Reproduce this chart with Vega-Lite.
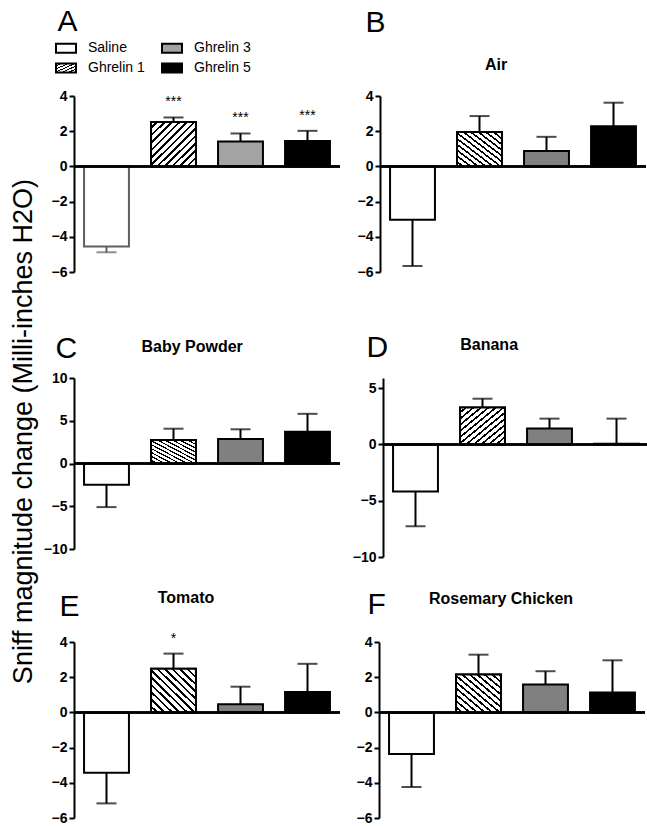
{
"$schema":"https://vega.github.io/schema/vega-lite/v6.json",
"background":"white",
"padding":{"left":10,"top":6,"right":2,"bottom":0},
"config":{"font":"Liberation Sans","view":{"stroke":null},
 "axis":{"grid":false,"domainColor":"black","domainWidth":2,"tickColor":"black","tickWidth":2,"tickSize":5,"labelFontSize":14,"labelFontWeight":"bold","labelColor":"black","labelPadding":2}},
"params":[
 {"name":"hatchFwd","value":{"gradient":"linear","x1":0,"y1":0,"x2":1,"y2":1,"stops":[{"offset":0,"color":"white"},{"offset":0.054,"color":"white"},{"offset":0.054,"color":"black"},{"offset":0.0833,"color":"black"},{"offset":0.0833,"color":"white"},{"offset":0.1375,"color":"white"},{"offset":0.1375,"color":"black"},{"offset":0.1667,"color":"black"},{"offset":0.1667,"color":"white"},{"offset":0.2208,"color":"white"},{"offset":0.2208,"color":"black"},{"offset":0.25,"color":"black"},{"offset":0.25,"color":"white"},{"offset":0.3042,"color":"white"},{"offset":0.3042,"color":"black"},{"offset":0.3333,"color":"black"},{"offset":0.3333,"color":"white"},{"offset":0.3875,"color":"white"},{"offset":0.3875,"color":"black"},{"offset":0.4167,"color":"black"},{"offset":0.4167,"color":"white"},{"offset":0.4708,"color":"white"},{"offset":0.4708,"color":"black"},{"offset":0.5,"color":"black"},{"offset":0.5,"color":"white"},{"offset":0.5542,"color":"white"},{"offset":0.5542,"color":"black"},{"offset":0.5833,"color":"black"},{"offset":0.5833,"color":"white"},{"offset":0.6375,"color":"white"},{"offset":0.6375,"color":"black"},{"offset":0.6667,"color":"black"},{"offset":0.6667,"color":"white"},{"offset":0.7208,"color":"white"},{"offset":0.7208,"color":"black"},{"offset":0.75,"color":"black"},{"offset":0.75,"color":"white"},{"offset":0.8042,"color":"white"},{"offset":0.8042,"color":"black"},{"offset":0.8333,"color":"black"},{"offset":0.8333,"color":"white"},{"offset":0.8875,"color":"white"},{"offset":0.8875,"color":"black"},{"offset":0.9167,"color":"black"},{"offset":0.9167,"color":"white"},{"offset":0.9708,"color":"white"},{"offset":0.9708,"color":"black"},{"offset":1,"color":"black"}]}},
 {"name":"hatchBack","value":{"gradient":"linear","x1":0,"y1":1,"x2":1,"y2":0,"stops":[{"offset":0,"color":"white"},{"offset":0.054,"color":"white"},{"offset":0.054,"color":"black"},{"offset":0.0833,"color":"black"},{"offset":0.0833,"color":"white"},{"offset":0.1375,"color":"white"},{"offset":0.1375,"color":"black"},{"offset":0.1667,"color":"black"},{"offset":0.1667,"color":"white"},{"offset":0.2208,"color":"white"},{"offset":0.2208,"color":"black"},{"offset":0.25,"color":"black"},{"offset":0.25,"color":"white"},{"offset":0.3042,"color":"white"},{"offset":0.3042,"color":"black"},{"offset":0.3333,"color":"black"},{"offset":0.3333,"color":"white"},{"offset":0.3875,"color":"white"},{"offset":0.3875,"color":"black"},{"offset":0.4167,"color":"black"},{"offset":0.4167,"color":"white"},{"offset":0.4708,"color":"white"},{"offset":0.4708,"color":"black"},{"offset":0.5,"color":"black"},{"offset":0.5,"color":"white"},{"offset":0.5542,"color":"white"},{"offset":0.5542,"color":"black"},{"offset":0.5833,"color":"black"},{"offset":0.5833,"color":"white"},{"offset":0.6375,"color":"white"},{"offset":0.6375,"color":"black"},{"offset":0.6667,"color":"black"},{"offset":0.6667,"color":"white"},{"offset":0.7208,"color":"white"},{"offset":0.7208,"color":"black"},{"offset":0.75,"color":"black"},{"offset":0.75,"color":"white"},{"offset":0.8042,"color":"white"},{"offset":0.8042,"color":"black"},{"offset":0.8333,"color":"black"},{"offset":0.8333,"color":"white"},{"offset":0.8875,"color":"white"},{"offset":0.8875,"color":"black"},{"offset":0.9167,"color":"black"},{"offset":0.9167,"color":"white"},{"offset":0.9708,"color":"white"},{"offset":0.9708,"color":"black"},{"offset":1,"color":"black"}]}},
 {"name":"hatchLeg","value":{"gradient":"linear","x1":0,"y1":0,"x2":1,"y2":1,"stops":[{"offset":0,"color":"white"},{"offset":0.108,"color":"white"},{"offset":0.108,"color":"black"},{"offset":0.1667,"color":"black"},{"offset":0.1667,"color":"white"},{"offset":0.275,"color":"white"},{"offset":0.275,"color":"black"},{"offset":0.3333,"color":"black"},{"offset":0.3333,"color":"white"},{"offset":0.4417,"color":"white"},{"offset":0.4417,"color":"black"},{"offset":0.5,"color":"black"},{"offset":0.5,"color":"white"},{"offset":0.6083,"color":"white"},{"offset":0.6083,"color":"black"},{"offset":0.6667,"color":"black"},{"offset":0.6667,"color":"white"},{"offset":0.775,"color":"white"},{"offset":0.775,"color":"black"},{"offset":0.8333,"color":"black"},{"offset":0.8333,"color":"white"},{"offset":0.9417,"color":"white"},{"offset":0.9417,"color":"black"},{"offset":1,"color":"black"}]}}
],
"title":{"text":"Sniff magnitude change (Milli-inches H2O)","orient":"left","anchor":"middle","frame":"bounds","fontSize":27,"fontWeight":"normal","offset":5,"dx":-16,"color":"black"},
"datasets":{"d":[
{"panel":"A","group":"Saline","mean":-4.55,"err":-4.88},
{"panel":"A","group":"Ghrelin 1","mean":2.52,"err":2.78,"sig":"***"},
{"panel":"A","group":"Ghrelin 3","mean":1.42,"err":1.87,"sig":"***"},
{"panel":"A","group":"Ghrelin 5","mean":1.45,"err":2.02,"sig":"***"},
{"panel":"B","group":"Saline","mean":-3.03,"err":-5.66},
{"panel":"B","group":"Ghrelin 1","mean":1.96,"err":2.86},
{"panel":"B","group":"Ghrelin 3","mean":0.88,"err":1.68},
{"panel":"B","group":"Ghrelin 5","mean":2.28,"err":3.62},
{"panel":"C","group":"Saline","mean":-2.48,"err":-5.1},
{"panel":"C","group":"Ghrelin 1","mean":2.76,"err":4.07},
{"panel":"C","group":"Ghrelin 3","mean":2.87,"err":4.0},
{"panel":"C","group":"Ghrelin 5","mean":3.72,"err":5.81},
{"panel":"D","group":"Saline","mean":-4.18,"err":-7.27},
{"panel":"D","group":"Ghrelin 1","mean":3.29,"err":4.06},
{"panel":"D","group":"Ghrelin 3","mean":1.41,"err":2.29},
{"panel":"D","group":"Ghrelin 5","mean":0.05,"err":2.29},
{"panel":"E","group":"Saline","mean":-3.43,"err":-5.17},
{"panel":"E","group":"Ghrelin 1","mean":2.48,"err":3.34,"sig":"*"},
{"panel":"E","group":"Ghrelin 3","mean":0.47,"err":1.46},
{"panel":"E","group":"Ghrelin 5","mean":1.16,"err":2.76},
{"panel":"F","group":"Saline","mean":-2.37,"err":-4.24},
{"panel":"F","group":"Ghrelin 1","mean":2.15,"err":3.28},
{"panel":"F","group":"Ghrelin 3","mean":1.58,"err":2.34},
{"panel":"F","group":"Ghrelin 5","mean":1.13,"err":2.96}
]},
"spacing":53,
"vconcat":[
{"hconcat":[
 {"width":266,"height":176,"data":{"name":"d"},"transform":[{"filter":"datum.panel === 'A'"}],
  "layer":[
   {"mark":{"type":"rule","strokeWidth":2},"encoding":{"x":{"field":"group","type":"nominal","scale":{"domain":["Saline","Ghrelin 1","Ghrelin 3","Ghrelin 5"],"paddingInner":0.33,"paddingOuter":0.15},"axis":{"orient":"top","title":"A","titleAnchor":"start","titleAlign":"left","titleX":-17,"titleFontSize":30,"titleFontWeight":"normal","titleBaseline":"alphabetic","titlePadding":66,"titleColor":"black","labels":false,"ticks":false,"domain":false}},"y":{"field":"mean","type":"quantitative","scale":{"domain":[-6,4],"nice":false},"axis":{"title":null,"values":[-6,-4,-2,0,2,4]}},"y2":{"field":"err"},"color":{"condition":{"test":"datum.group === 'Saline'","value":"#5f5f5f"},"value":"black"}}},
   {"mark":{"type":"tick","thickness":2,"size":20},"encoding":{"x":{"field":"group","type":"nominal","scale":{"domain":["Saline","Ghrelin 1","Ghrelin 3","Ghrelin 5"],"paddingInner":0.33,"paddingOuter":0.15},"axis":{"orient":"top","title":"A","titleAnchor":"start","titleAlign":"left","titleX":-17,"titleFontSize":30,"titleFontWeight":"normal","titleBaseline":"alphabetic","titlePadding":66,"titleColor":"black","labels":false,"ticks":false,"domain":false}},"y":{"field":"err","type":"quantitative","scale":{"domain":[-6,4],"nice":false},"axis":{"title":null,"values":[-6,-4,-2,0,2,4]}},"color":{"condition":{"test":"datum.group === 'Saline'","value":"#5f5f5f"},"value":"black"}}},
   {"mark":{"type":"bar","strokeWidth":2},"encoding":{
     "x":{"field":"group","type":"nominal","scale":{"domain":["Saline","Ghrelin 1","Ghrelin 3","Ghrelin 5"],"paddingInner":0.33,"paddingOuter":0.15},"axis":{"orient":"top","title":"A","titleAnchor":"start","titleAlign":"left","titleX":-17,"titleFontSize":30,"titleFontWeight":"normal","titleBaseline":"alphabetic","titlePadding":66,"titleColor":"black","labels":false,"ticks":false,"domain":false}},
     "y":{"field":"mean","type":"quantitative","scale":{"domain":[-6,4],"nice":false},"axis":{"title":null,"values":[-6,-4,-2,0,2,4]}},
     "fill":{"field":"group","type":"nominal","scale":{"domain":["Saline","Ghrelin 1","Ghrelin 3","Ghrelin 5"],"range":["white",{"expr":"hatchLeg"},"#a3a3a3","black"]},
       "legend":{"orient":"none","legendX":-19,"legendY":-59,"title":null,"columns":2,"symbolType":"M-1,-0.45H1V0.45H-1Z","symbolSize":400,"symbolStrokeColor":"black","symbolStrokeWidth":2,"labelFontSize":14,"labelColor":"black","labelOffset":11,"columnPadding":13,"rowPadding":0}},
     "stroke":{"condition":{"test":"datum.group === 'Saline'","value":"#5f5f5f"},"value":"black"}}},
   {"transform":[{"filter":"datum.group === 'Ghrelin 1'"}],"mark":{"type":"bar","stroke":"black","strokeWidth":2,"fill":{"expr":"hatchFwd"}},"encoding":{"x":{"field":"group","type":"nominal","scale":{"domain":["Saline","Ghrelin 1","Ghrelin 3","Ghrelin 5"],"paddingInner":0.33,"paddingOuter":0.15},"axis":{"orient":"top","title":"A","titleAnchor":"start","titleAlign":"left","titleX":-17,"titleFontSize":30,"titleFontWeight":"normal","titleBaseline":"alphabetic","titlePadding":66,"titleColor":"black","labels":false,"ticks":false,"domain":false}},"y":{"field":"mean","type":"quantitative","scale":{"domain":[-6,4],"nice":false},"axis":{"title":null,"values":[-6,-4,-2,0,2,4]}}}},
   {"mark":{"type":"rule","color":"black","strokeWidth":2},"encoding":{"y":{"datum":0,"type":"quantitative","scale":{"domain":[-6,4],"nice":false},"axis":{"title":null,"values":[-6,-4,-2,0,2,4]}}}},
   {"transform":[{"filter":"datum.sig"}],"mark":{"type":"text","fontSize":14,"baseline":"alphabetic","dy":-11,"color":"black"},"encoding":{"x":{"field":"group","type":"nominal","scale":{"domain":["Saline","Ghrelin 1","Ghrelin 3","Ghrelin 5"],"paddingInner":0.33,"paddingOuter":0.15},"axis":{"orient":"top","title":"A","titleAnchor":"start","titleAlign":"left","titleX":-17,"titleFontSize":30,"titleFontWeight":"normal","titleBaseline":"alphabetic","titlePadding":66,"titleColor":"black","labels":false,"ticks":false,"domain":false}},"y":{"field":"err","type":"quantitative","scale":{"domain":[-6,4],"nice":false},"axis":{"title":null,"values":[-6,-4,-2,0,2,4]}},"text":{"field":"sig"}}}
  ]},
 {"width":266,"height":176,"data":{"name":"d"},"transform":[{"filter":"datum.panel === 'B'"}],
  "title":{"text":"Air","anchor":"middle","frame":"bounds","fontSize":16,"fontWeight":"bold","baseline":"alphabetic","offset":-79,"dx":-6,"color":"black"},
  "layer":[
   {"mark":{"type":"rule","color":"black","strokeWidth":2},"encoding":{"x":{"field":"group","type":"nominal","scale":{"domain":["Saline","Ghrelin 1","Ghrelin 3","Ghrelin 5"],"paddingInner":0.33,"paddingOuter":0.15},"axis":{"orient":"top","title":"B","titleAnchor":"start","titleAlign":"left","titleX":-15,"titleFontSize":30,"titleFontWeight":"normal","titleBaseline":"alphabetic","titlePadding":65,"titleColor":"black","labels":false,"ticks":false,"domain":false}},"y":{"field":"mean","type":"quantitative","scale":{"domain":[-6,4],"nice":false},"axis":{"title":null,"values":[-6,-4,-2,0,2,4]}},"y2":{"field":"err"}}},
   {"mark":{"type":"tick","color":"black","thickness":2,"size":20},"encoding":{"x":{"field":"group","type":"nominal","scale":{"domain":["Saline","Ghrelin 1","Ghrelin 3","Ghrelin 5"],"paddingInner":0.33,"paddingOuter":0.15},"axis":{"orient":"top","title":"B","titleAnchor":"start","titleAlign":"left","titleX":-15,"titleFontSize":30,"titleFontWeight":"normal","titleBaseline":"alphabetic","titlePadding":65,"titleColor":"black","labels":false,"ticks":false,"domain":false}},"y":{"field":"err","type":"quantitative","scale":{"domain":[-6,4],"nice":false},"axis":{"title":null,"values":[-6,-4,-2,0,2,4]}}}},
   {"mark":{"type":"bar","stroke":"black","strokeWidth":2},"encoding":{
     "x":{"field":"group","type":"nominal","scale":{"domain":["Saline","Ghrelin 1","Ghrelin 3","Ghrelin 5"],"paddingInner":0.33,"paddingOuter":0.15},"axis":{"orient":"top","title":"B","titleAnchor":"start","titleAlign":"left","titleX":-15,"titleFontSize":30,"titleFontWeight":"normal","titleBaseline":"alphabetic","titlePadding":65,"titleColor":"black","labels":false,"ticks":false,"domain":false}},
     "y":{"field":"mean","type":"quantitative","scale":{"domain":[-6,4],"nice":false},"axis":{"title":null,"values":[-6,-4,-2,0,2,4]}},
     "fill":{"condition":[{"test":"datum.group === 'Ghrelin 3'","value":"#808080"},{"test":"datum.group === 'Ghrelin 5'","value":"black"}],"value":"white"}}},
   {"transform":[{"filter":"datum.group === 'Ghrelin 1'"}],"mark":{"type":"bar","stroke":"black","strokeWidth":2,"fill":{"expr":"hatchBack"}},"encoding":{"x":{"field":"group","type":"nominal","scale":{"domain":["Saline","Ghrelin 1","Ghrelin 3","Ghrelin 5"],"paddingInner":0.33,"paddingOuter":0.15},"axis":{"orient":"top","title":"B","titleAnchor":"start","titleAlign":"left","titleX":-15,"titleFontSize":30,"titleFontWeight":"normal","titleBaseline":"alphabetic","titlePadding":65,"titleColor":"black","labels":false,"ticks":false,"domain":false}},"y":{"field":"mean","type":"quantitative","scale":{"domain":[-6,4],"nice":false},"axis":{"title":null,"values":[-6,-4,-2,0,2,4]}}}},
   {"mark":{"type":"rule","color":"black","strokeWidth":2},"encoding":{"y":{"datum":0,"type":"quantitative","scale":{"domain":[-6,4],"nice":false},"axis":{"title":null,"values":[-6,-4,-2,0,2,4]}}}}
  ]}
 ],"spacing":16},
{"vconcat":[
 {"hconcat":[
  {"width":266,"height":171,"data":{"name":"d"},"transform":[{"filter":"datum.panel === 'C'"}],
   "title":{"text":"Baby Powder","anchor":"middle","frame":"bounds","fontSize":16,"fontWeight":"bold","baseline":"alphabetic","offset":-35,"color":"black"},
   "layer":[
    {"mark":{"type":"rule","color":"black","strokeWidth":2},"encoding":{"x":{"field":"group","type":"nominal","scale":{"domain":["Saline","Ghrelin 1","Ghrelin 3","Ghrelin 5"],"paddingInner":0.33,"paddingOuter":0.15},"axis":{"orient":"top","title":"C","titleAnchor":"start","titleAlign":"left","titleX":-19,"titleFontSize":30,"titleFontWeight":"normal","titleBaseline":"alphabetic","titlePadding":21,"titleColor":"black","labels":false,"ticks":false,"domain":false}},"y":{"field":"mean","type":"quantitative","scale":{"domain":[-10,10],"nice":false},"axis":{"title":null,"values":[-10,-5,0,5,10]}},"y2":{"field":"err"}}},
    {"mark":{"type":"tick","color":"black","thickness":2,"size":20},"encoding":{"x":{"field":"group","type":"nominal","scale":{"domain":["Saline","Ghrelin 1","Ghrelin 3","Ghrelin 5"],"paddingInner":0.33,"paddingOuter":0.15},"axis":{"orient":"top","title":"C","titleAnchor":"start","titleAlign":"left","titleX":-19,"titleFontSize":30,"titleFontWeight":"normal","titleBaseline":"alphabetic","titlePadding":21,"titleColor":"black","labels":false,"ticks":false,"domain":false}},"y":{"field":"err","type":"quantitative","scale":{"domain":[-10,10],"nice":false},"axis":{"title":null,"values":[-10,-5,0,5,10]}}}},
    {"mark":{"type":"bar","stroke":"black","strokeWidth":2},"encoding":{
      "x":{"field":"group","type":"nominal","scale":{"domain":["Saline","Ghrelin 1","Ghrelin 3","Ghrelin 5"],"paddingInner":0.33,"paddingOuter":0.15},"axis":{"orient":"top","title":"C","titleAnchor":"start","titleAlign":"left","titleX":-19,"titleFontSize":30,"titleFontWeight":"normal","titleBaseline":"alphabetic","titlePadding":21,"titleColor":"black","labels":false,"ticks":false,"domain":false}},
      "y":{"field":"mean","type":"quantitative","scale":{"domain":[-10,10],"nice":false},"axis":{"title":null,"values":[-10,-5,0,5,10]}},
      "fill":{"condition":[{"test":"datum.group === 'Ghrelin 3'","value":"#808080"},{"test":"datum.group === 'Ghrelin 5'","value":"black"}],"value":"white"}}},
    {"transform":[{"filter":"datum.group === 'Ghrelin 1'"}],"mark":{"type":"bar","stroke":"black","strokeWidth":2,"fill":{"expr":"hatchBack"}},"encoding":{"x":{"field":"group","type":"nominal","scale":{"domain":["Saline","Ghrelin 1","Ghrelin 3","Ghrelin 5"],"paddingInner":0.33,"paddingOuter":0.15},"axis":{"orient":"top","title":"C","titleAnchor":"start","titleAlign":"left","titleX":-19,"titleFontSize":30,"titleFontWeight":"normal","titleBaseline":"alphabetic","titlePadding":21,"titleColor":"black","labels":false,"ticks":false,"domain":false}},"y":{"field":"mean","type":"quantitative","scale":{"domain":[-10,10],"nice":false},"axis":{"title":null,"values":[-10,-5,0,5,10]}}}},
    {"mark":{"type":"rule","color":"black","strokeWidth":2},"encoding":{"y":{"datum":0,"type":"quantitative","scale":{"domain":[-10,10],"nice":false},"axis":{"title":null,"values":[-10,-5,0,5,10]}}}}
   ]},
  {"width":266,"height":179,"data":{"name":"d"},"transform":[{"filter":"datum.panel === 'D'"}],
   "title":{"text":"Banana","anchor":"middle","frame":"bounds","fontSize":16,"fontWeight":"bold","baseline":"alphabetic","offset":-34,"dx":-12,"color":"black"},
   "layer":[
    {"mark":{"type":"rule","color":"black","strokeWidth":2},"encoding":{"x":{"field":"group","type":"nominal","scale":{"domain":["Saline","Ghrelin 1","Ghrelin 3","Ghrelin 5"],"paddingInner":0.33,"paddingOuter":0.15},"axis":{"orient":"top","title":"D","titleAnchor":"start","titleAlign":"left","titleX":-17,"titleFontSize":30,"titleFontWeight":"normal","titleBaseline":"alphabetic","titlePadding":22,"titleColor":"black","labels":false,"ticks":false,"domain":false}},"y":{"field":"mean","type":"quantitative","scale":{"domain":[-10,5.9],"nice":false},"axis":{"title":null,"values":[-10,-5,0,5]}},"y2":{"field":"err"}}},
    {"mark":{"type":"tick","color":"black","thickness":2,"size":20},"encoding":{"x":{"field":"group","type":"nominal","scale":{"domain":["Saline","Ghrelin 1","Ghrelin 3","Ghrelin 5"],"paddingInner":0.33,"paddingOuter":0.15},"axis":{"orient":"top","title":"D","titleAnchor":"start","titleAlign":"left","titleX":-17,"titleFontSize":30,"titleFontWeight":"normal","titleBaseline":"alphabetic","titlePadding":22,"titleColor":"black","labels":false,"ticks":false,"domain":false}},"y":{"field":"err","type":"quantitative","scale":{"domain":[-10,5.9],"nice":false},"axis":{"title":null,"values":[-10,-5,0,5]}}}},
    {"mark":{"type":"bar","stroke":"black","strokeWidth":2},"encoding":{
      "x":{"field":"group","type":"nominal","scale":{"domain":["Saline","Ghrelin 1","Ghrelin 3","Ghrelin 5"],"paddingInner":0.33,"paddingOuter":0.15},"axis":{"orient":"top","title":"D","titleAnchor":"start","titleAlign":"left","titleX":-17,"titleFontSize":30,"titleFontWeight":"normal","titleBaseline":"alphabetic","titlePadding":22,"titleColor":"black","labels":false,"ticks":false,"domain":false}},
      "y":{"field":"mean","type":"quantitative","scale":{"domain":[-10,5.9],"nice":false},"axis":{"title":null,"values":[-10,-5,0,5]}},
      "fill":{"condition":[{"test":"datum.group === 'Ghrelin 3'","value":"#808080"},{"test":"datum.group === 'Ghrelin 5'","value":"black"}],"value":"white"}}},
    {"transform":[{"filter":"datum.group === 'Ghrelin 1'"}],"mark":{"type":"bar","stroke":"black","strokeWidth":2,"fill":{"expr":"hatchFwd"}},"encoding":{"x":{"field":"group","type":"nominal","scale":{"domain":["Saline","Ghrelin 1","Ghrelin 3","Ghrelin 5"],"paddingInner":0.33,"paddingOuter":0.15},"axis":{"orient":"top","title":"D","titleAnchor":"start","titleAlign":"left","titleX":-17,"titleFontSize":30,"titleFontWeight":"normal","titleBaseline":"alphabetic","titlePadding":22,"titleColor":"black","labels":false,"ticks":false,"domain":false}},"y":{"field":"mean","type":"quantitative","scale":{"domain":[-10,5.9],"nice":false},"axis":{"title":null,"values":[-10,-5,0,5]}}}},
    {"mark":{"type":"rule","color":"black","strokeWidth":2},"encoding":{"y":{"datum":0,"type":"quantitative","scale":{"domain":[-10,5.9],"nice":false},"axis":{"title":null,"values":[-10,-5,0,5]}}}}
   ]}
  ],"spacing":11},
 {"hconcat":[
  {"width":266,"height":176,"data":{"name":"d"},"transform":[{"filter":"datum.panel === 'E'"}],
   "title":{"text":"Tomato","anchor":"middle","frame":"bounds","fontSize":16,"fontWeight":"bold","baseline":"alphabetic","offset":-28,"dx":-10,"color":"black"},
   "layer":[
    {"mark":{"type":"rule","color":"black","strokeWidth":2},"encoding":{"x":{"field":"group","type":"nominal","scale":{"domain":["Saline","Ghrelin 1","Ghrelin 3","Ghrelin 5"],"paddingInner":0.33,"paddingOuter":0.15},"axis":{"orient":"top","title":"E","titleAnchor":"start","titleAlign":"left","titleX":-15,"titleFontSize":30,"titleFontWeight":"normal","titleBaseline":"alphabetic","titlePadding":27,"titleColor":"black","labels":false,"ticks":false,"domain":false}},"y":{"field":"mean","type":"quantitative","scale":{"domain":[-6,4],"nice":false},"axis":{"title":null,"values":[-6,-4,-2,0,2,4]}},"y2":{"field":"err"}}},
    {"mark":{"type":"tick","color":"black","thickness":2,"size":20},"encoding":{"x":{"field":"group","type":"nominal","scale":{"domain":["Saline","Ghrelin 1","Ghrelin 3","Ghrelin 5"],"paddingInner":0.33,"paddingOuter":0.15},"axis":{"orient":"top","title":"E","titleAnchor":"start","titleAlign":"left","titleX":-15,"titleFontSize":30,"titleFontWeight":"normal","titleBaseline":"alphabetic","titlePadding":27,"titleColor":"black","labels":false,"ticks":false,"domain":false}},"y":{"field":"err","type":"quantitative","scale":{"domain":[-6,4],"nice":false},"axis":{"title":null,"values":[-6,-4,-2,0,2,4]}}}},
    {"mark":{"type":"bar","stroke":"black","strokeWidth":2},"encoding":{
      "x":{"field":"group","type":"nominal","scale":{"domain":["Saline","Ghrelin 1","Ghrelin 3","Ghrelin 5"],"paddingInner":0.33,"paddingOuter":0.15},"axis":{"orient":"top","title":"E","titleAnchor":"start","titleAlign":"left","titleX":-15,"titleFontSize":30,"titleFontWeight":"normal","titleBaseline":"alphabetic","titlePadding":27,"titleColor":"black","labels":false,"ticks":false,"domain":false}},
      "y":{"field":"mean","type":"quantitative","scale":{"domain":[-6,4],"nice":false},"axis":{"title":null,"values":[-6,-4,-2,0,2,4]}},
      "fill":{"condition":[{"test":"datum.group === 'Ghrelin 3'","value":"#808080"},{"test":"datum.group === 'Ghrelin 5'","value":"black"}],"value":"white"}}},
    {"transform":[{"filter":"datum.group === 'Ghrelin 1'"}],"mark":{"type":"bar","stroke":"black","strokeWidth":2,"fill":{"expr":"hatchBack"}},"encoding":{"x":{"field":"group","type":"nominal","scale":{"domain":["Saline","Ghrelin 1","Ghrelin 3","Ghrelin 5"],"paddingInner":0.33,"paddingOuter":0.15},"axis":{"orient":"top","title":"E","titleAnchor":"start","titleAlign":"left","titleX":-15,"titleFontSize":30,"titleFontWeight":"normal","titleBaseline":"alphabetic","titlePadding":27,"titleColor":"black","labels":false,"ticks":false,"domain":false}},"y":{"field":"mean","type":"quantitative","scale":{"domain":[-6,4],"nice":false},"axis":{"title":null,"values":[-6,-4,-2,0,2,4]}}}},
    {"mark":{"type":"rule","color":"black","strokeWidth":2},"encoding":{"y":{"datum":0,"type":"quantitative","scale":{"domain":[-6,4],"nice":false},"axis":{"title":null,"values":[-6,-4,-2,0,2,4]}}}},
    {"transform":[{"filter":"datum.sig"}],"mark":{"type":"text","fontSize":14,"baseline":"alphabetic","dy":-11,"color":"black"},"encoding":{"x":{"field":"group","type":"nominal","scale":{"domain":["Saline","Ghrelin 1","Ghrelin 3","Ghrelin 5"],"paddingInner":0.33,"paddingOuter":0.15},"axis":{"orient":"top","title":"E","titleAnchor":"start","titleAlign":"left","titleX":-15,"titleFontSize":30,"titleFontWeight":"normal","titleBaseline":"alphabetic","titlePadding":27,"titleColor":"black","labels":false,"ticks":false,"domain":false}},"y":{"field":"err","type":"quantitative","scale":{"domain":[-6,4],"nice":false},"axis":{"title":null,"values":[-6,-4,-2,0,2,4]}},"text":{"field":"sig"}}}
   ]},
  {"width":266,"height":176,"data":{"name":"d"},"transform":[{"filter":"datum.panel === 'F'"}],
   "title":{"text":"Rosemary Chicken","anchor":"middle","frame":"bounds","fontSize":16,"fontWeight":"bold","baseline":"alphabetic","offset":-31,"color":"black"},
   "layer":[
    {"mark":{"type":"rule","color":"black","strokeWidth":2},"encoding":{"x":{"field":"group","type":"nominal","scale":{"domain":["Saline","Ghrelin 1","Ghrelin 3","Ghrelin 5"],"paddingInner":0.33,"paddingOuter":0.15},"axis":{"orient":"top","title":"F","titleAnchor":"start","titleAlign":"left","titleX":-12,"titleFontSize":30,"titleFontWeight":"normal","titleBaseline":"alphabetic","titlePadding":29,"titleColor":"black","labels":false,"ticks":false,"domain":false}},"y":{"field":"mean","type":"quantitative","scale":{"domain":[-6,4],"nice":false},"axis":{"title":null,"values":[-6,-4,-2,0,2,4]}},"y2":{"field":"err"}}},
    {"mark":{"type":"tick","color":"black","thickness":2,"size":20},"encoding":{"x":{"field":"group","type":"nominal","scale":{"domain":["Saline","Ghrelin 1","Ghrelin 3","Ghrelin 5"],"paddingInner":0.33,"paddingOuter":0.15},"axis":{"orient":"top","title":"F","titleAnchor":"start","titleAlign":"left","titleX":-12,"titleFontSize":30,"titleFontWeight":"normal","titleBaseline":"alphabetic","titlePadding":29,"titleColor":"black","labels":false,"ticks":false,"domain":false}},"y":{"field":"err","type":"quantitative","scale":{"domain":[-6,4],"nice":false},"axis":{"title":null,"values":[-6,-4,-2,0,2,4]}}}},
    {"mark":{"type":"bar","stroke":"black","strokeWidth":2},"encoding":{
      "x":{"field":"group","type":"nominal","scale":{"domain":["Saline","Ghrelin 1","Ghrelin 3","Ghrelin 5"],"paddingInner":0.33,"paddingOuter":0.15},"axis":{"orient":"top","title":"F","titleAnchor":"start","titleAlign":"left","titleX":-12,"titleFontSize":30,"titleFontWeight":"normal","titleBaseline":"alphabetic","titlePadding":29,"titleColor":"black","labels":false,"ticks":false,"domain":false}},
      "y":{"field":"mean","type":"quantitative","scale":{"domain":[-6,4],"nice":false},"axis":{"title":null,"values":[-6,-4,-2,0,2,4]}},
      "fill":{"condition":[{"test":"datum.group === 'Ghrelin 3'","value":"#808080"},{"test":"datum.group === 'Ghrelin 5'","value":"black"}],"value":"white"}}},
    {"transform":[{"filter":"datum.group === 'Ghrelin 1'"}],"mark":{"type":"bar","stroke":"black","strokeWidth":2,"fill":{"expr":"hatchBack"}},"encoding":{"x":{"field":"group","type":"nominal","scale":{"domain":["Saline","Ghrelin 1","Ghrelin 3","Ghrelin 5"],"paddingInner":0.33,"paddingOuter":0.15},"axis":{"orient":"top","title":"F","titleAnchor":"start","titleAlign":"left","titleX":-12,"titleFontSize":30,"titleFontWeight":"normal","titleBaseline":"alphabetic","titlePadding":29,"titleColor":"black","labels":false,"ticks":false,"domain":false}},"y":{"field":"mean","type":"quantitative","scale":{"domain":[-6,4],"nice":false},"axis":{"title":null,"values":[-6,-4,-2,0,2,4]}}}},
    {"mark":{"type":"rule","color":"black","strokeWidth":2},"encoding":{"y":{"datum":0,"type":"quantitative","scale":{"domain":[-6,4],"nice":false},"axis":{"title":null,"values":[-6,-4,-2,0,2,4]}}}}
   ]}
  ],"spacing":15}
 ],"spacing":25}
]
}
